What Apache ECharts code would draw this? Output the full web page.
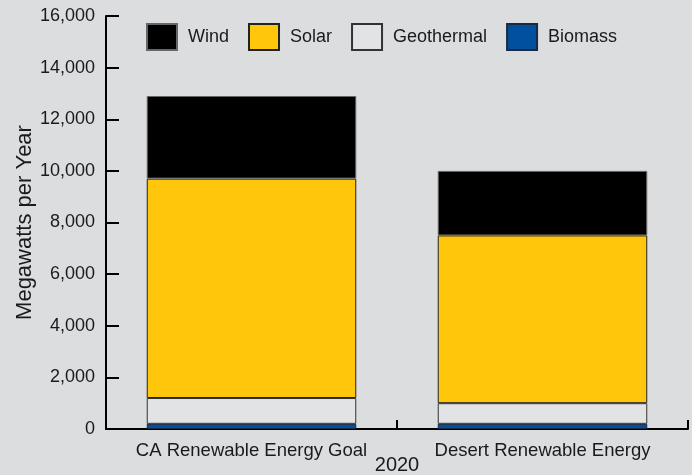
<!DOCTYPE html>
<html>
<head>
<meta charset="utf-8">
<script src="https://cdn.jsdelivr.net/npm/echarts@6/dist/echarts.min.js"></script>
<style>
  html, body { margin: 0; padding: 0; background: #dcdddf; }
  #main { width: 692px; height: 475px; }
</style>
</head>
<body>
<div id="main"></div>
<script>
// categories and values (megawatts per year)
const categories = ['CA Renewable Energy Goal', 'Desert Renewable Energy']
const biomass = [200, 200]
const geothermal = [1000, 800]
const solar = [8500, 6500]
const wind = [3200, 2500]
const legendNames = ['Wind', 'Solar', 'Geothermal', 'Biomass']

const font = 'Liberation Sans, Arial, sans-serif'
const textColor = '#1a1a1a'

function bar (name, data, color, border) {
  return {
    name: name,
    type: 'bar',
    stack: 'total',
    barWidth: '72%',
    data: data,
    itemStyle: {
      color: color,
      borderColor: border,
      borderWidth: 1
    }
  }
}

const chart = echarts.init(document.getElementById('main'))
chart.setOption({
  backgroundColor: '#dcdddf',
  animation: false,
  textStyle: { fontFamily: font, color: textColor },
  legend: {
    data: legendNames,
    icon: 'rect',
    left: 146,
    top: 23,
    padding: 0,
    itemWidth: 30,
    itemHeight: 26,
    itemGap: 19,
    textStyle: { fontSize: 18, color: textColor, fontFamily: font, padding: [0, 0, 0, 6] }
  },
  grid: {
    left: 106,
    right: 4,
    top: 16,
    bottom: 46,
    outerBoundsMode: 'none'
  },
  xAxis: {
    type: 'category',
    data: categories,
    name: '2020',
    nameLocation: 'middle',
    nameGap: 26,
    nameMoveOverlap: false,
    nameTextStyle: { fontSize: 20, color: textColor, fontFamily: font },
    axisLine: { lineStyle: { color: '#000', width: 2 } },
    axisTick: { show: true, inside: true, length: 9, lineStyle: { color: '#000', width: 2 } },
    axisLabel: { interval: 0, fontSize: 18.5, color: textColor, margin: 12, fontFamily: font }
  },
  yAxis: {
    type: 'value',
    min: 0,
    max: 16000,
    interval: 2000,
    name: 'Megawatts per Year',
    nameLocation: 'middle',
    nameGap: 70,
    nameMoveOverlap: false,
    nameTextStyle: { fontSize: 22, color: textColor, fontFamily: font },
    splitLine: { show: false },
    axisLine: { show: true, lineStyle: { color: '#000', width: 2 } },
    axisTick: { show: true, inside: true, length: 13, lineStyle: { color: '#000', width: 2 } },
    axisLabel: {
      fontSize: 18,
      color: textColor,
      margin: 11,
      fontFamily: font,
      formatter: v => v.toLocaleString('en-US')
    }
  },
  series: [
    bar('Biomass', biomass, '#00509f', '#1a2a40'),
    bar('Geothermal', geothermal, '#e2e3e5', '#333'),
    bar('Solar', solar, '#ffc60b', '#222'),
    bar('Wind', wind, '#000000', '#666')
  ]
})
</script>
</body>
</html>
